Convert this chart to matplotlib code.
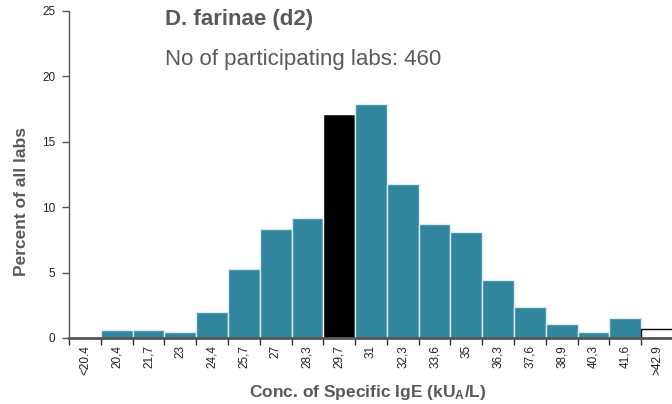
import matplotlib.pyplot as plt
import numpy as np

plt.rcParams['font.family'] = ['Liberation Sans', 'DejaVu Sans']
plt.rcParams['mathtext.default'] = 'regular'

# data
bins = ['<20.4', '20,4', '21,7', '23', '24,4', '25,7', '27', '28,3', '29,7', '31',
        '32,3', '33,6', '35', '36,3', '37,6', '38,9', '40,3', '41,6', '>42.9']
percent = [0, 0.6, 0.6, 0.43, 1.95, 5.25, 8.3, 9.2, 17.15, 17.9,
           11.8, 8.7, 8.1, 4.4, 2.4, 1.07, 0.43, 1.5, 0.67]
median_bin = '29,7'
outside_bin = '>42.9'

teal = '#31859c'
grey = '#595959'

fig = plt.figure(figsize=(6.72, 4.04), dpi=100)
ax = fig.add_axes([69 / 672, 66 / 404, 604 / 672, 327 / 404])

x = np.arange(len(bins))
colors = []
edges = []
for b in bins:
    if b == median_bin:
        colors.append('black')
        edges.append('white')
    elif b == outside_bin:
        colors.append('white')
        edges.append('black')
    else:
        colors.append(teal)
        edges.append('#d8eaf0')

ax.bar(x + 0.5, percent, width=1.0, color=colors, edgecolor=edges, linewidth=1)

ax.set_xlim(0, len(bins))
ax.set_ylim(0, 25)
ax.set_yticks([0, 5, 10, 15, 20, 25])

# ticks on bin edges, labels centred in bins
ax.set_xticks(np.arange(len(bins) + 1))
ax.set_xticklabels([])
ax.set_xticks(x + 0.5, minor=True)
ax.set_xticklabels(bins, minor=True, rotation=90)
ax.tick_params(axis='x', which='minor', length=0, labelsize=8.5, pad=5, labelcolor='#222222')
ax.tick_params(axis='x', which='major', length=5, width=1, color='#333333')
ax.tick_params(axis='y', length=5, width=1, color='#555555', labelsize=8.5, labelcolor='#222222', pad=5)

for s in ['top', 'right']:
    ax.spines[s].set_visible(False)
ax.spines['left'].set_color('#555555')
ax.spines['left'].set_linewidth(1)
ax.spines['bottom'].set_color('#555555')
ax.spines['bottom'].set_linewidth(2)

ax.set_ylabel('Percent of all labs', fontsize=12.5, fontweight='bold', color=grey)
ax.yaxis.set_label_coords((22 - 69) / 604, (338 - 202) / 327)
ax.yaxis.label.set_va('center')
ax.set_xlabel('Conc. of Specific IgE (kU$_{A}$/L)', fontsize=12.5, fontweight='bold', color=grey)
ax.xaxis.set_label_coords((368 - 69) / 604, (338 - 392) / 327)
ax.xaxis.label.set_va('center')

fig.text(165 / 672, 1 - 20 / 404, 'D. farinae (d2)', fontsize=16, fontweight='bold',
         color=grey, va='center', ha='left')
fig.text(165 / 672, 1 - 60 / 404, 'No of participating labs: 460', fontsize=16,
         color=grey, va='center', ha='left')

plt.savefig('out.png', dpi=100)
